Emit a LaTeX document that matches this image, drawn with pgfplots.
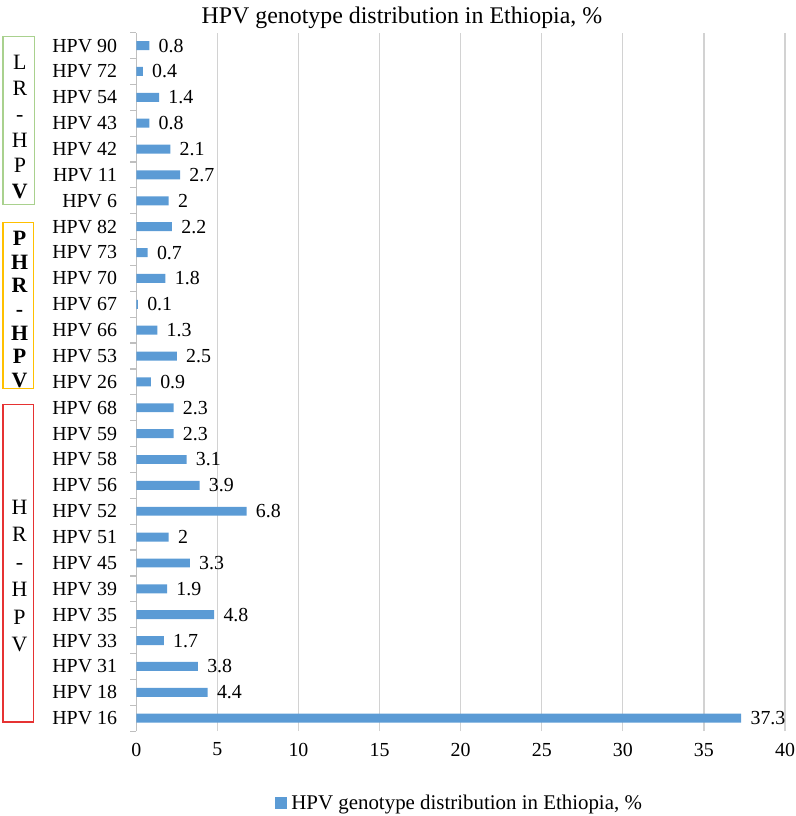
\documentclass[border=0pt]{standalone}
\usepackage{fontspec}
\setmainfont{Liberation Serif}
\usepackage{pgfplots}
\pgfplotsset{compat=1.18}

\definecolor{barblue}{RGB}{91,155,213}
\definecolor{gridgray}{RGB}{210,210,210}
\definecolor{axisgray}{RGB}{191,191,191}
\definecolor{lrgreen}{RGB}{169,209,142}
\definecolor{phryellow}{RGB}{255,192,0}
\definecolor{hrred}{RGB}{230,50,50}

\begin{document}
\begin{tikzpicture}
\begin{axis}[
  width=326pt, height=351pt, scale only axis,
  clip=false,
  xmin=0, xmax=40, ymin=-0.5, ymax=26.5,
  enlargelimits=false,
  axis x line*=bottom, axis y line*=left,
  x axis line style={draw=none},
  y axis line style={draw=axisgray, line width=0.6pt},
  xtick={0,5,...,40},
  xtick style={draw=none},
  xmajorgrids, grid style={draw=gridgray, line width=0.6pt},
  ytick={0,...,26},
  yticklabels={HPV 16,HPV 18,HPV 31,HPV 33,HPV 35,HPV 39,HPV 45,HPV 51,HPV 52,HPV 56,HPV 58,HPV 59,HPV 68,
    HPV 26,HPV 53,HPV 66,HPV 67,HPV 70,HPV 73,HPV 82,
    HPV 6,HPV 11,HPV 42,HPV 43,HPV 54,HPV 72,HPV 90},
  major tick length=0pt,
  extra y ticks={-0.5,0.5,...,26.5},
  extra y tick labels={},
  extra y tick style={major tick length=3pt, tick align=outside, tick style={draw=axisgray, line width=0.6pt}},
  yticklabel style={inner sep=0pt, xshift=-9.5pt, font=\fontsize{10}{12}\selectfont},
  xticklabel style={inner sep=0pt, yshift=-5.75pt, font=\fontsize{10}{12}\selectfont},
  /pgf/number format/assume math mode=true,
  every axis title shift=0pt,
  title={HPV genotype distribution in Ethiopia, \%},
  title style={at={(0.4095,1)}, anchor=base, yshift=4.75pt, font=\fontsize{12}{14}\selectfont},
  legend style={at={(0.5,-0.1033)}, anchor=center, draw=none, fill=none,
    font=\fontsize{10.5}{12}\selectfont, inner sep=0pt},
]
\addplot[xbar, bar width=4.5pt, fill=barblue, draw=none,
  point meta=x,
  nodes near coords,
  every node near coord/.append style={font=\fontsize{10}{12}\selectfont, anchor=west, inner sep=0pt, xshift=4.5pt, text=black},
  legend image code/.code={\fill[barblue] (0pt,-3pt) rectangle (6pt,3pt);}]
coordinates {
(37.3,0) (4.4,1) (3.8,2) (1.7,3) (4.8,4) (1.9,5) (3.3,6) (2,7) (6.8,8) (3.9,9) (3.1,10) (2.3,11) (2.3,12)
(0.9,13) (2.5,14) (1.3,15) (0.1,16) (1.8,17) (0.7,18) (2.2,19)
(2,20) (2.7,21) (2.1,22) (0.8,23) (1.4,24) (0.4,25) (0.8,26)
};
\addlegendentry{HPV genotype distribution in Ethiopia, \%}

% group boxes on the left
\draw[lrgreen, line width=0.6pt] (axis cs:-8.22,26.34) rectangle (axis cs:-6.26,19.85);
\node[font=\fontsize{11}{13}\selectfont, align=center] at (axis cs:-7.18,22.85) {L\\R\\-\\H\\P\\\textbf{V}};
\draw[phryellow, line width=0.6pt] (axis cs:-8.22,19.16) rectangle (axis cs:-6.32,12.75);
\node[font=\fontsize{11}{11.85}\selectfont\bfseries, align=center] at (axis cs:-7.2,15.8) {P\\H\\R\\-\\H\\P\\V};
\draw[hrred, line width=0.6pt] (axis cs:-8.22,12.13) rectangle (axis cs:-6.32,-0.15);
\node[font=\fontsize{11}{13.8}\selectfont, align=center] at (axis cs:-7.2,5.5) {H\\R\\-\\H\\P\\V};

% page extent
\path (axis cs:-8.405,-3.648) rectangle (axis cs:40.67,27.69);
\end{axis}
\end{tikzpicture}
\end{document}
